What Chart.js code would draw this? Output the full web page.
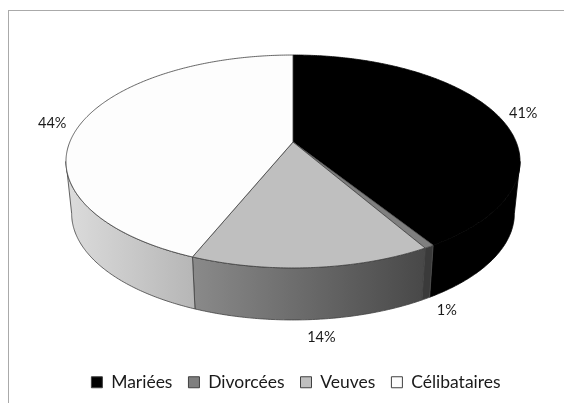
<!DOCTYPE html>
<html>
<head>
<meta charset="utf-8">
<title>Répartition</title>
<script src="https://cdn.jsdelivr.net/npm/chart.js@4/dist/chart.umd.min.js"></script>
<style>
    html, body { margin: 0; padding: 0; background: #fff; overflow: hidden; }
    #frame { position: absolute; left: 8px; top: 10px; width: 600px; height: 440px; border-left: 1.5px solid #aaa; border-top: 1.5px solid #aaa; }
    #pie { position: absolute; left: 0; top: 0; }
</style>
</head>
<body>
<div id="frame"></div>
<canvas id="pie" width="564" height="403"></canvas>
<script>
// Data
const categories = ['Mariées', 'Divorcées', 'Veuves', 'Célibataires'];
const shares = [41.1, 0.6, 14.4, 43.9];

// Colours of the top faces and of the sides (left, right of each side band)
const topColors = ['#000000', '#7f7f7f', '#bfbfbf', '#fdfdfd'];
const sideColors = [['#000000', '#000000'], ['#3a3a3a', '#3a3a3a'], ['#8a8a8a', '#484848'], ['#dcdcdc', '#b6b6b6']];
const edgeColors = ['#000000', '#505050', '#404040', '#404040'];
const labelOffsets = [[26, -2], [21, 12], [10, 18], [-29, 0]];

// Perspective of the disc: apex position, half axes, foreshortening, thickness
const view = { x: 293, y: 142, a: 223.2, b: 102.9, k: 0.183, depth: 52, shrink: 0.975 };

function project(angle) {
    const u = Math.cos(angle);
    const v = Math.sin(angle);
    const d = 1 - view.k * v;
    return [view.x + view.a * u / d, view.y + view.b * v / d];
}

function projectBottom(angle) {
    const p = project(angle);
    return [view.x + (p[0] - view.x) * view.shrink, p[1] + view.depth];
}

function arcPoints(start, end, fn) {
    const pts = [];
    const steps = Math.max(2, Math.ceil((end - start) / 0.01));
    for (let i = 0; i <= steps; i++) {
        pts.push(fn(start + (end - start) * i / steps));
    }
    return pts;
}

function tracePath(ctx, pts) {
    ctx.beginPath();
    pts.forEach((p, i) => {
        if (i === 0) ctx.moveTo(p[0], p[1]);
        else ctx.lineTo(p[0], p[1]);
    });
    ctx.closePath();
}

// Draws the pie as a tilted disc, using the angles computed by Chart.js
const tiltedPie = {
    id: 'tiltedPie',
    beforeDatasetDraw(chart, args) {
        const ctx = chart.ctx;
        const arcs = args.meta.data;
        const sideStart = Math.asin(view.k);
        const sideEnd = Math.PI - sideStart;
        ctx.save();
        ctx.lineJoin = 'round';

        // Sides first
        arcs.forEach((arc, i) => {
            const s = Math.max(arc.startAngle, sideStart);
            const e = Math.min(arc.endAngle, sideEnd);
            if (e <= s) return;
            const top = arcPoints(s, e, project);
            const bottom = arcPoints(s, e, projectBottom).reverse();
            const pts = top.concat(bottom);
            const xs = pts.map(p => p[0]);
            const grad = ctx.createLinearGradient(Math.min(...xs), 0, Math.max(...xs), 0);
            grad.addColorStop(0, sideColors[i][0]);
            grad.addColorStop(1, sideColors[i][1]);
            tracePath(ctx, pts);
            ctx.fillStyle = grad;
            ctx.fill();
            ctx.strokeStyle = edgeColors[i];
            ctx.lineWidth = 0.8;
            ctx.stroke();
        });

        // Then the top faces
        arcs.forEach((arc, i) => {
            const pts = [[view.x, view.y]].concat(arcPoints(arc.startAngle, arc.endAngle, project));
            tracePath(ctx, pts);
            ctx.fillStyle = topColors[i];
            ctx.fill();
            ctx.strokeStyle = edgeColors[i];
            ctx.lineWidth = 0.8;
            ctx.stroke();
        });

        // Percent labels
        const total = shares.reduce((a, b) => a + b, 0);
        ctx.fillStyle = '#1a1a1a';
        ctx.font = '14.5px Lato';
        ctx.textAlign = 'center';
        ctx.textBaseline = 'middle';
        arcs.forEach((arc, i) => {
            const mid = (arc.startAngle + arc.endAngle) / 2;
            const front = Math.sin(mid) > view.k;
            const p = front ? projectBottom(mid) : project(mid);
            const text = Math.round(shares[i] / total * 100) + '%';
            ctx.fillText(text, p[0] + labelOffsets[i][0], p[1] + labelOffsets[i][1]);
        });
        ctx.restore();
        return false;
    }
};

new Chart(document.getElementById('pie'), {
    type: 'pie',
    data: {
        labels: categories,
        datasets: [{
            data: shares,
            backgroundColor: topColors,
            borderColor: '#404040',
            borderWidth: 1
        }]
    },
    options: {
        responsive: false,
        animation: false,
        layout: { padding: { left: 28, bottom: 2 } },
        plugins: {
            tooltip: { enabled: false },
            legend: {
                position: 'bottom',
                labels: {
                    boxWidth: 11,
                    boxHeight: 11,
                    padding: 16,
                    color: '#1a1a1a',
                    font: { family: 'Lato', size: 17.5 }
                }
            }
        }
    },
    plugins: [tiltedPie]
});
</script>
</body>
</html>
